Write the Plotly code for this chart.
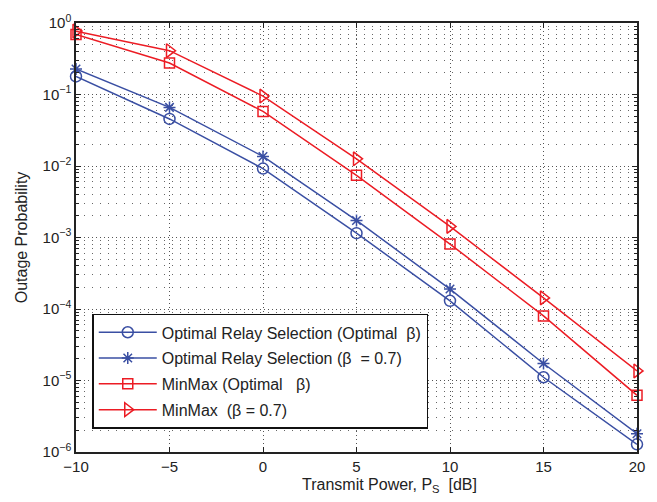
import plotly.graph_objects as go

x_db = [-10, -5, 0, 5, 10, 15, 20]
ors_opt = [0.179, 0.0455, 0.0092, 0.00115, 0.00013, 1.11e-5, 1.28e-6]
ors_07 = [0.228, 0.066, 0.0136, 0.00173, 0.00019, 1.73e-5, 1.8e-6]
mm_opt = [0.69, 0.276, 0.058, 0.0074, 0.00081, 8.0e-5, 6.2e-6]
mm_07 = [0.77, 0.41, 0.095, 0.0126, 0.00143, 1.43e-4, 1.36e-5]

names = ["Optimal Relay Selection (Optimal  β)",
         "Optimal Relay Selection (β  = 0.7)",
         "MinMax (Optimal   β)",
         "MinMax  (β = 0.7)"]
x_ticks = [-10, -5, 0, 5, 10, 15, 20]
x_ticktext = ["−10", "−5", "0", "5", "10", "15", "20"]
y_ticks = [1e-6, 1e-5, 1e-4, 1e-3, 1e-2, 1e-1, 1]
y_ticktext = ["10<sup>−6</sup>", "10<sup>−5</sup>", "10<sup>−4</sup>", "10<sup>−3</sup>",
              "10<sup>−2</sup>", "10<sup>−1</sup>", "10<sup>0</sup>"]
y_minor = [m * 10.0 ** k for k in range(-6, 0) for m in range(2, 10)]
x_title = "Transmit Power, P<sub>S</sub>  [dB]"
y_title = "Outage Probability"

BLUE = "#3a4fa3"
RED = "#ec1c24"
FONT = "Liberation Sans, Arial, sans-serif"

fig = go.Figure()
specs = [
    (ors_opt, BLUE, "circle-open", 11),
    (ors_07, BLUE, "asterisk-open", 10),
    (mm_opt, RED, "square-open", 10),
    (mm_07, RED, "triangle-right-open", 12),
]
for i, (vals, col, sym, sz) in enumerate(specs):
    fig.add_trace(go.Scatter(
        x=x_db, y=vals, name=names[i], mode="lines+markers",
        line=dict(color=col, width=1.5),
        marker=dict(symbol=sym, size=sz, color=col, line=dict(color=col, width=1.5)),
        cliponaxis=False, legendgroup=f"g{i}",
    ))

fig.update_layout(
    width=657, height=502,
    margin=dict(l=76, r=19, t=15, b=50),
    paper_bgcolor="white", plot_bgcolor="white",
    font=dict(family=FONT, size=14, color="#222"),
    showlegend=True,
    legend=dict(
        x=0.029, y=0.322, xanchor="left", yanchor="top",
        bgcolor="white", bordercolor="#111", borderwidth=1.5,
        font=dict(family=FONT, size=16, color="#222"),
        traceorder="grouped", tracegroupgap=2, itemwidth=58,
    ),
    annotations=[
        dict(text=x_title, xref="paper", yref="paper", x=0.559, y=-0.078,
             xanchor="center", yanchor="middle", showarrow=False,
             font=dict(family=FONT, size=16, color="#222")),
        dict(text=y_title, xref="paper", yref="paper", x=-0.0966, y=0.5,
             xanchor="center", yanchor="middle", showarrow=False, textangle=-90,
             font=dict(family=FONT, size=16, color="#222")),
    ],
)
fig.update_xaxes(
    range=[-10, 20], tickmode="array", tickvals=x_ticks, ticktext=x_ticktext,
    showgrid=True, gridcolor="#555", griddash="1px,3px", gridwidth=1,
    ticks="inside", ticklen=5, tickcolor="#222", mirror="ticks",
    showline=True, linecolor="#222", linewidth=1.5, zeroline=False,
    tickfont=dict(family=FONT, size=15),
)
fig.update_yaxes(
    type="log", range=[-6, 0], tickmode="array", tickvals=y_ticks, ticktext=y_ticktext,
    showgrid=True, gridcolor="#555", griddash="1px,3px", gridwidth=1,
    ticks="inside", ticklen=5, tickcolor="#222", mirror="ticks",
    showline=True, linecolor="#222", linewidth=1.5, zeroline=False,
    minor=dict(tickmode="array", tickvals=y_minor, showgrid=True, gridcolor="#666",
               griddash="1px,7px", gridwidth=1, ticks="inside", ticklen=3, tickcolor="#222"),
    tickfont=dict(family=FONT, size=15),
)

fig.write_html("out.html")
